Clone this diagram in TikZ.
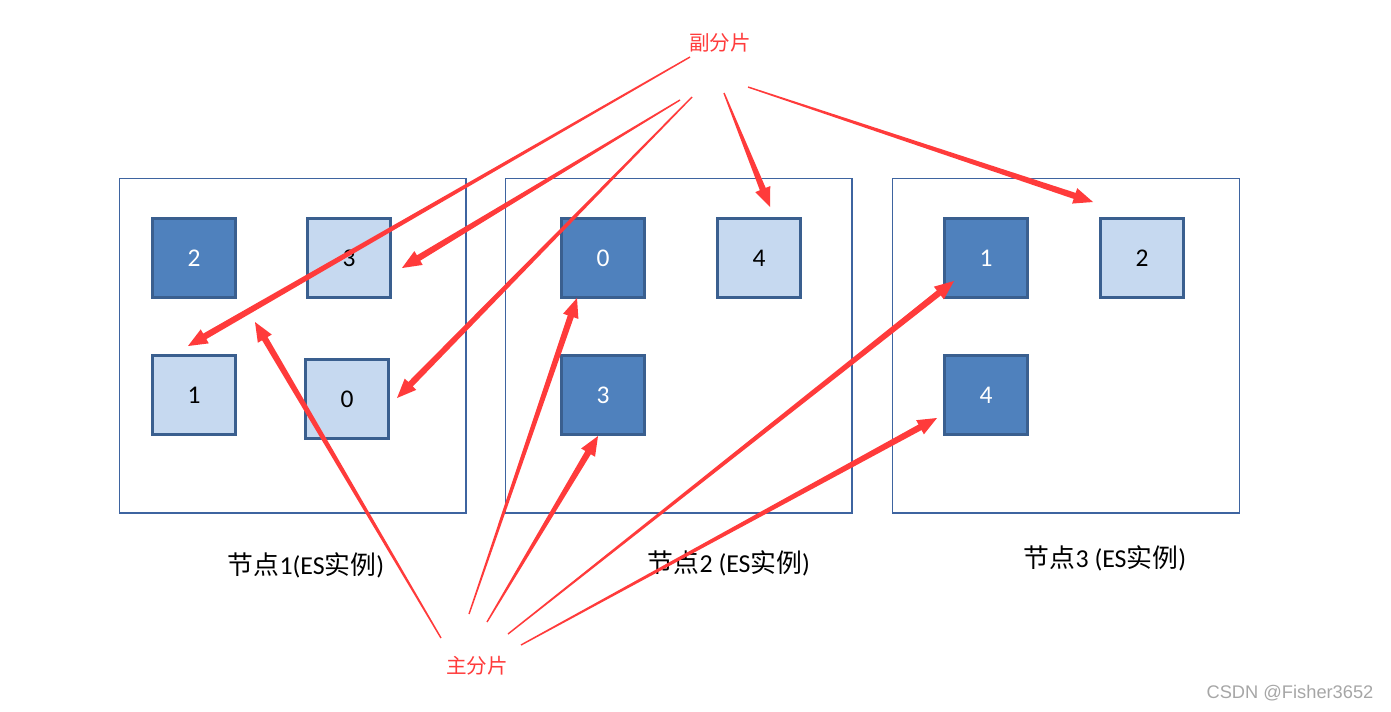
\documentclass[tikz,border=0pt]{standalone}
\usepackage{fontspec}
\setmainfont{Carlito}
\newfontfamily\cjk{Noto Sans CJK SC}
\newfontfamily\wm{Liberation Sans}
\usetikzlibrary{calc}
\definecolor{dk}{HTML}{4F81BD}
\definecolor{lt}{HTML}{C6D9F0}
\definecolor{bd}{HTML}{3A5F8F}
\definecolor{bb}{HTML}{3E64A0}
\definecolor{ar}{HTML}{FF3B3B}
\tikzset{
 shard/.style={draw=bd, line width=1.8pt, minimum width=1.66cm, minimum height=1.58cm, inner sep=0pt, font=\fontsize{14.5}{16}\selectfont},
 prishard/.style={shard, fill=dk, text=white},
 repshard/.style={shard, fill=lt, text=black},
 bigbox/.style={draw=bb, line width=0.6pt, minimum width=6.94cm, minimum height=6.7cm, inner sep=0pt},
 nodecaption/.style={font=\fontsize{14.7}{17}\selectfont, inner sep=0pt},
 redlbl/.style={text=ar, font=\cjk\fontsize{11.7}{14}\selectfont, inner sep=0pt},
}
\newcommand\tarrow[2]{%
 \path ($(#2)!11pt!(#1)$) coordinate (tb);
 \fill[ar] ($(#1)!0.4pt!90:(#2)$) -- ($(tb)!1.8pt!-90:(#1)$) -- ($(tb)!4.6pt!-90:(#1)$)
   -- (#2) -- ($(tb)!4.6pt!90:(#1)$) -- ($(tb)!1.8pt!90:(#1)$) -- ($(#1)!0.4pt!-90:(#2)$) -- cycle;
}
\begin{document}
\begin{tikzpicture}[x=0.02cm,y=-0.02cm]
\path[use as bounding box] (0,0) rectangle (1391,711);
% big boxes
\node[bigbox] (n1) at (292.5,345.5) {};
\node[bigbox] (n2) at (678.5,345.5) {};
\node[bigbox] (n3) at (1066,345.5) {};
% shards node 1
\node[prishard] (a2) at (194,258) {2};
\node[repshard] (a3) at (349,258) {3};
\node[repshard] (a1) at (194,395) {1};
\node[repshard] (a0) at (347,399) {0};
% node 2
\node[prishard] (b0) at (603,258) {0};
\node[repshard] (b4) at (759,258) {4};
\node[prishard] (b3) at (603,395) {3};
% node 3
\node[prishard] (c1) at (986,258) {1};
\node[repshard] (c2) at (1142,258) {2};
\node[prishard] (c4) at (986,395) {4};
% captions
\node[nodecaption] (l1) at (306,565) {{\cjk 节点}1(ES{\cjk 实例})};
\node[nodecaption] (l2) at (729,563) {{\cjk 节点}2 (ES{\cjk 实例})};
\node[nodecaption] (l3) at (1105,558) {{\cjk 节点}3 (ES{\cjk 实例})};
% red labels
\node[redlbl] (replbl) at (720,43) {副分片};
\node[redlbl] (prilbl) at (477,666) {主分片};
\node[text=gray!70, font=\wm\fontsize{10.4}{12}\selectfont, inner sep=0pt] (wm) at (1290,693) {CSDN @Fisher3652};
% arrow start/end coordinates
\coordinate (s1) at (690,57);
\coordinate (s2) at (680,100);
\coordinate (s3) at (692,97);
\coordinate (s4) at (724,93);
\coordinate (s5) at (748,87);
\coordinate (t1) at (188,346);
\coordinate (t2) at (402,268);
\coordinate (t3) at (397,398);
\coordinate (t4) at (770,207);
\coordinate (t5) at (1093,202);
\coordinate (p1) at (441,638);
\coordinate (p2) at (469,614);
\coordinate (p3) at (487,622);
\coordinate (p4) at (508,634);
\coordinate (p5) at (521,645);
\coordinate (q1) at (255,322);
\coordinate (q2) at (577,298);
\coordinate (q3) at (598,436);
\coordinate (q4) at (954,281);
\coordinate (q5) at (937,418);
\tarrow{s1}{t1}
\tarrow{s2}{t2}
\tarrow{s3}{t3}
\tarrow{s4}{t4}
\tarrow{s5}{t5}
\tarrow{p1}{q1}
\tarrow{p2}{q2}
\tarrow{p3}{q3}
\tarrow{p4}{q4}
\tarrow{p5}{q5}
\end{tikzpicture}
\end{document}
